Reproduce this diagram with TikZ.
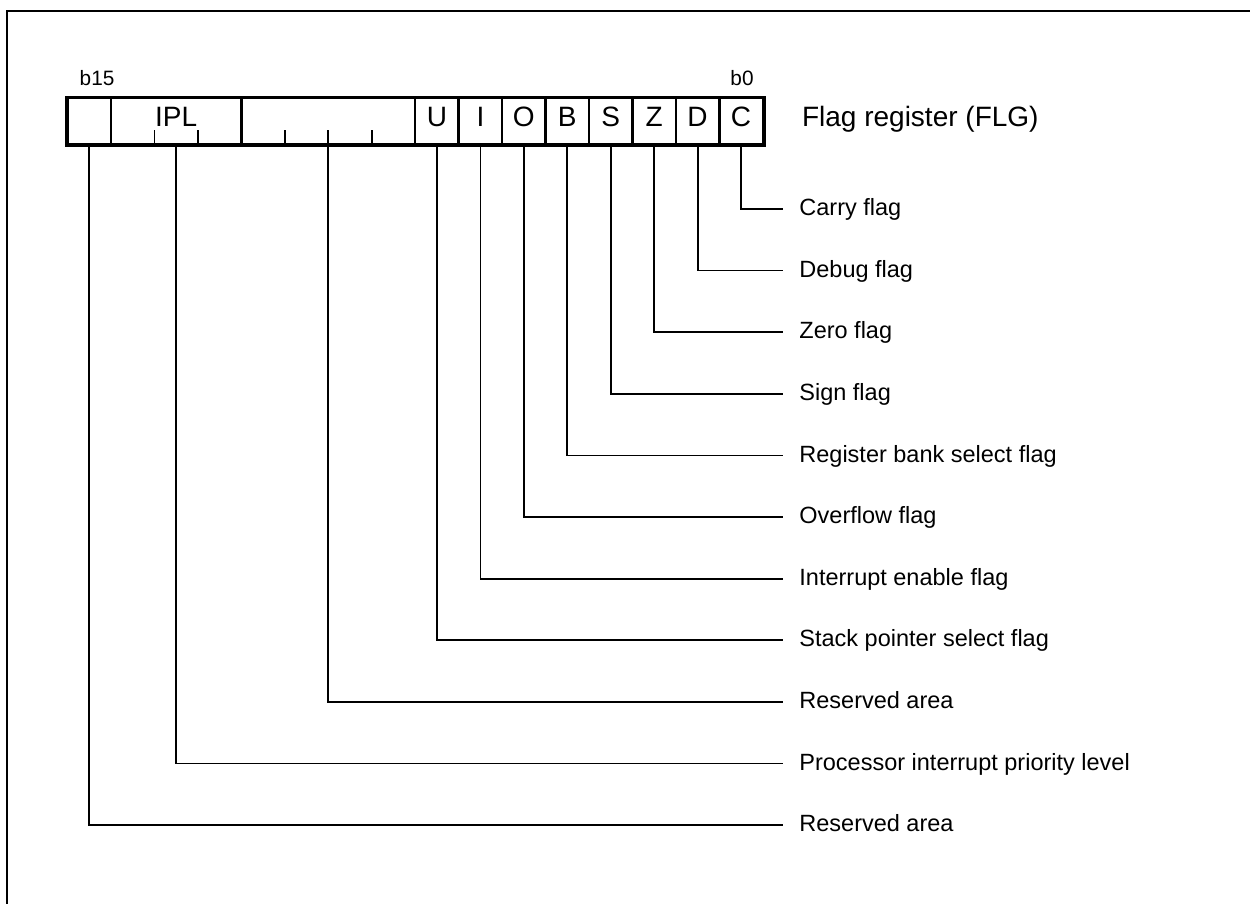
\documentclass[tikz,border=0pt]{standalone}
\usepackage{fontspec}
\setmainfont{Liberation Sans}
\begin{document}
\begin{tikzpicture}[x=0.5pt,y=-0.5pt,
  cell/.style={draw, line width=1.2pt, minimum width=21.725pt, minimum height=23.2pt,
    inner sep=0pt, text height=5.2pt, text depth=0pt, font=\fontsize{14}{16}\selectfont},
  wide3/.style={cell, minimum width=65.175pt},
  wide4/.style={cell, minimum width=86.9pt},
  flaglabel/.style={anchor=west, inner xsep=8pt, inner ysep=0pt, text height=9pt, text depth=2.3pt,
    font=\fontsize{11.75}{14}\selectfont},
  leader/.style={line width=0.9pt},
  tick/.style={line width=0.9pt},
  bitnum/.style={inner sep=0pt, font=\fontsize{10.4}{12}\selectfont},
  title/.style={inner sep=0pt, anchor=base west, font=\fontsize{14}{16}\selectfont}]
\useasboundingbox (0,0) rectangle (1250,904);
\begin{scope}
\clip (0,0) rectangle (1250,904);
\draw[line width=1.25pt] (7,11) rectangle (1275,930);
\end{scope}
% register cells
\node[cell]  (f15) at (89.3,121.5) {};
\node[wide3] (ipl) at (176.2,121.5) {IPL};
\node[wide4] (rsv) at (328.3,121.5) {};
\node[cell]  (U) at (436.9,121.5) {U};
\node[cell]  (I) at (480.4,121.5) {I};
\node[cell]  (O) at (523.8,121.5) {O};
\node[cell]  (B) at (567.3,121.5) {B};
\node[cell]  (S) at (610.7,121.5) {S};
\node[cell]  (Z) at (654.2,121.5) {Z};
\node[cell]  (D) at (697.6,121.5) {D};
\node[cell]  (C) at (741.1,121.5) {C};
\draw[line width=1.5pt] (f15.north west) rectangle (C.south east);
% ticks
\foreach \tx in {154.5,197.95,284.85,328.3,371.75}
  \draw[tick] (\tx,144.7) -- (\tx,130);
% bit numbers and title
\node[bitnum, anchor=base west] (b15) at (79.3,86) {b15};
\node[bitnum, anchor=base east] (b0) at (754,86) {b0};
\node[title] (ttl) at (801.7,126.7) {Flag register (FLG)};
% labels
\node[flaglabel] (lC) at (783,209) {Carry flag};
\node[flaglabel] (lD) at (783,270.6) {Debug flag};
\node[flaglabel] (lZ) at (783,332.2) {Zero flag};
\node[flaglabel] (lS) at (783,393.8) {Sign flag};
\node[flaglabel] (lB) at (783,455.4) {Register bank select flag};
\node[flaglabel] (lO) at (783,517) {Overflow flag};
\node[flaglabel] (lI) at (783,578.6) {Interrupt enable flag};
\node[flaglabel] (lU) at (783,640.2) {Stack pointer select flag};
\node[flaglabel] (lrsv) at (783,701.8) {Reserved area};
\node[flaglabel] (lipl) at (783,763.4) {Processor interrupt priority level};
\node[flaglabel] (lf15) at (783,825) {Reserved area};
% leaders
\draw[leader] (C.south) |- (lC.west);
\draw[leader] (D.south) |- (lD.west);
\draw[leader] (Z.south) |- (lZ.west);
\draw[leader] (S.south) |- (lS.west);
\draw[leader] (B.south) |- (lB.west);
\draw[leader] (O.south) |- (lO.west);
\draw[leader] (I.south) |- (lI.west);
\draw[leader] (U.south) |- (lU.west);
\draw[leader] (rsv.south) |- (lrsv.west);
\draw[leader] (ipl.south) |- (lipl.west);
\draw[leader] (f15.south) |- (lf15.west);
\end{tikzpicture}
\end{document}
